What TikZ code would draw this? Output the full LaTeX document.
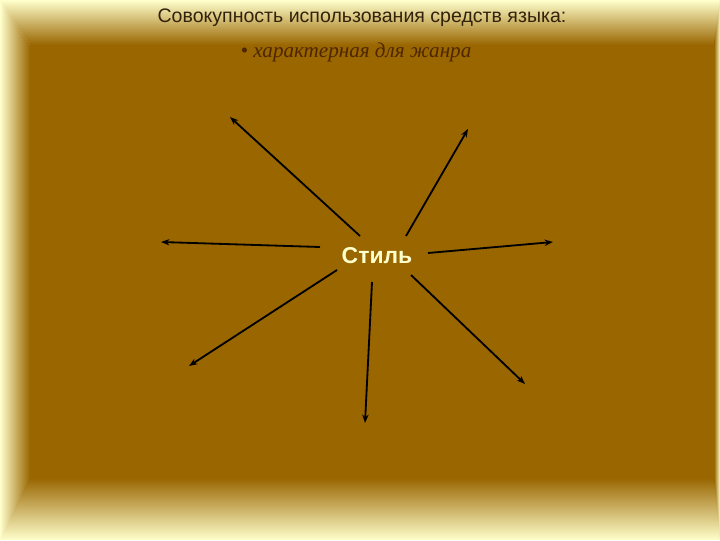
\documentclass[tikz,border=0pt]{standalone}
\usepackage{fontspec}
\setmainfont{Liberation Serif}
\setsansfont{Liberation Sans}
\usetikzlibrary{arrows.meta}
\definecolor{pale}{HTML}{FFFFCC}
\definecolor{tan}{HTML}{996600}
\definecolor{dark}{HTML}{33220A}
\definecolor{rust}{HTML}{4E2600}

\begin{document}
\begin{tikzpicture}[x=0.025cm,y=-0.025cm]
        \useasboundingbox (0,0) rectangle (720,540);
        % frame
        \fill[pale] (0,0) rectangle (720,540);
        \fill[tan] (30,45) rectangle (715,482);
        \shade[top color=pale, bottom color=tan] (0,0) -- (720,0) -- (715,45) -- (30,45) -- cycle;
        \shade[left color=pale, right color=tan] (0,0) -- (30,45) -- (30,482) -- (0,540) -- cycle;
        \shade[top color=tan, bottom color=pale] (30,478) -- (715,478) -- (720,540) -- (0,540) -- cycle;
        \shade[left color=tan, right color=pale] (714,45) -- (720,0) -- (720,540) -- (714,478) -- cycle;
        \begin{scope}[every node/.style={inner sep=0pt}]
            \node (l0) [text=dark, font=\sffamily\fontsize{13.9}{16}\selectfont] at (362, 18) {Совокупность использования средств языка:} ;
            \node (l1) [text=rust, font=\itshape\fontsize{15}{17}\selectfont] at (356, 52) {\textbullet\ характерная для жанра} ;
            \node (S) [text=pale, font=\sffamily\bfseries\fontsize{16.3}{18}\selectfont] at (377, 256) {Стиль};
        \end{scope}
        % arrow ends
        \coordinate (a0) at (360, 236); \coordinate (b0) at (230, 117);
        \coordinate (a1) at (406, 236); \coordinate (b1) at (468, 129);
        \coordinate (a2) at (320, 247); \coordinate (b2) at (161, 242);
        \coordinate (a3) at (428, 253); \coordinate (b3) at (553, 242);
        \coordinate (a4) at (337, 270); \coordinate (b4) at (189, 366);
        \coordinate (a5) at (372, 282); \coordinate (b5) at (365, 423);
        \coordinate (a6) at (411, 275); \coordinate (b6) at (525, 384);
        \path [-{Stealth[length=6pt,width=4.5pt]}] (a0) edge[draw=black,line width=1.3pt] node {} (b0);
        \path [-{Stealth[length=6pt,width=4.5pt]}] (a1) edge[draw=black,line width=1.3pt] node {} (b1);
        \path [-{Stealth[length=6pt,width=4.5pt]}] (a2) edge[draw=black,line width=1.3pt] node {} (b2);
        \path [-{Stealth[length=6pt,width=4.5pt]}] (a3) edge[draw=black,line width=1.3pt] node {} (b3);
        \path [-{Stealth[length=6pt,width=4.5pt]}] (a4) edge[draw=black,line width=1.3pt] node {} (b4);
        \path [-{Stealth[length=6pt,width=4.5pt]}] (a5) edge[draw=black,line width=1.3pt] node {} (b5);
        \path [-{Stealth[length=6pt,width=4.5pt]}] (a6) edge[draw=black,line width=1.3pt] node {} (b6);
    \end{tikzpicture}
\end{document}
